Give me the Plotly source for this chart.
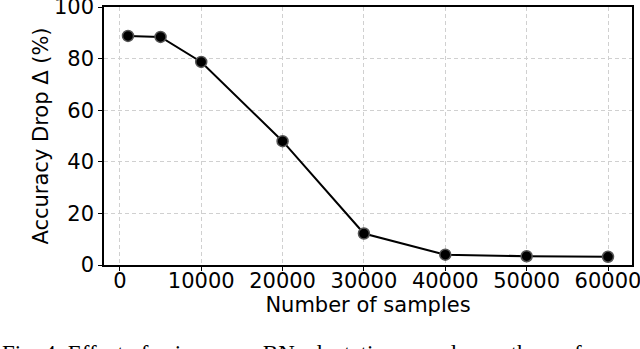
import plotly.graph_objects as go

samples = [1000, 5000, 10000, 20000, 30000, 40000, 50000, 60000]
acc_drop = [88.8, 88.4, 78.7, 48.0, 12.2, 4.0, 3.4, 3.2]
x_ticks = [0, 10000, 20000, 30000, 40000, 50000, 60000]
y_ticks = [0, 20, 40, 60, 80, 100]

fig = go.Figure()
fig.add_trace(go.Scatter(
    x=samples, y=acc_drop, mode="lines+markers",
    line=dict(color="black", width=2),
    marker=dict(size=11, color="black", line=dict(color="#555555", width=1.5)),
    showlegend=False,
))

font = "DejaVu Sans, sans-serif"
grid_dash = "4px,3px"
fig.update_layout(
    width=640, height=349,
    margin=dict(l=104, r=8, t=7, b=84),
    paper_bgcolor="white", plot_bgcolor="white",
    font=dict(family=font, size=21, color="black"),
)
fig.update_xaxes(
    range=[-1950, 62950], tickvals=x_ticks, ticktext=[str(v) for v in x_ticks],
    showgrid=True, gridcolor="#d0d0d0", griddash=grid_dash, gridwidth=1,
    showline=True, linecolor="black", linewidth=1.5, mirror=True,
    ticks="outside", ticklen=4, tickcolor="black", ticklabelstandoff=-8,
    zeroline=False, automargin=False, ticklabeloverflow="allow",
    title=dict(text="Number of samples", standoff=0, font=dict(size=21)),
)
fig.update_yaxes(
    range=[0, 100], tickvals=y_ticks,
    showgrid=True, gridcolor="#d0d0d0", griddash=grid_dash, gridwidth=1,
    showline=True, linecolor="black", linewidth=1.5, mirror=True,
    ticks="outside", ticklen=4, tickcolor="black",
    zeroline=False, automargin=False, ticklabeloverflow="allow",
    title=dict(text="Accuracy Drop Δ (%)", standoff=0, font=dict(size=21)),
)
fig.add_annotation(
    text="Fig. 4: Effect of using more BN adaptation samples on the performance",
    xref="paper", yref="paper", x=0, xanchor="left", y=-0.286, yanchor="top",
    xshift=-104, showarrow=False,
    font=dict(family="Liberation Serif, Times New Roman, serif", size=23, color="black"),
)
fig.write_html("out.html", config={"displayModeBar": False},
               post_script="document.body.style.margin='0';")
